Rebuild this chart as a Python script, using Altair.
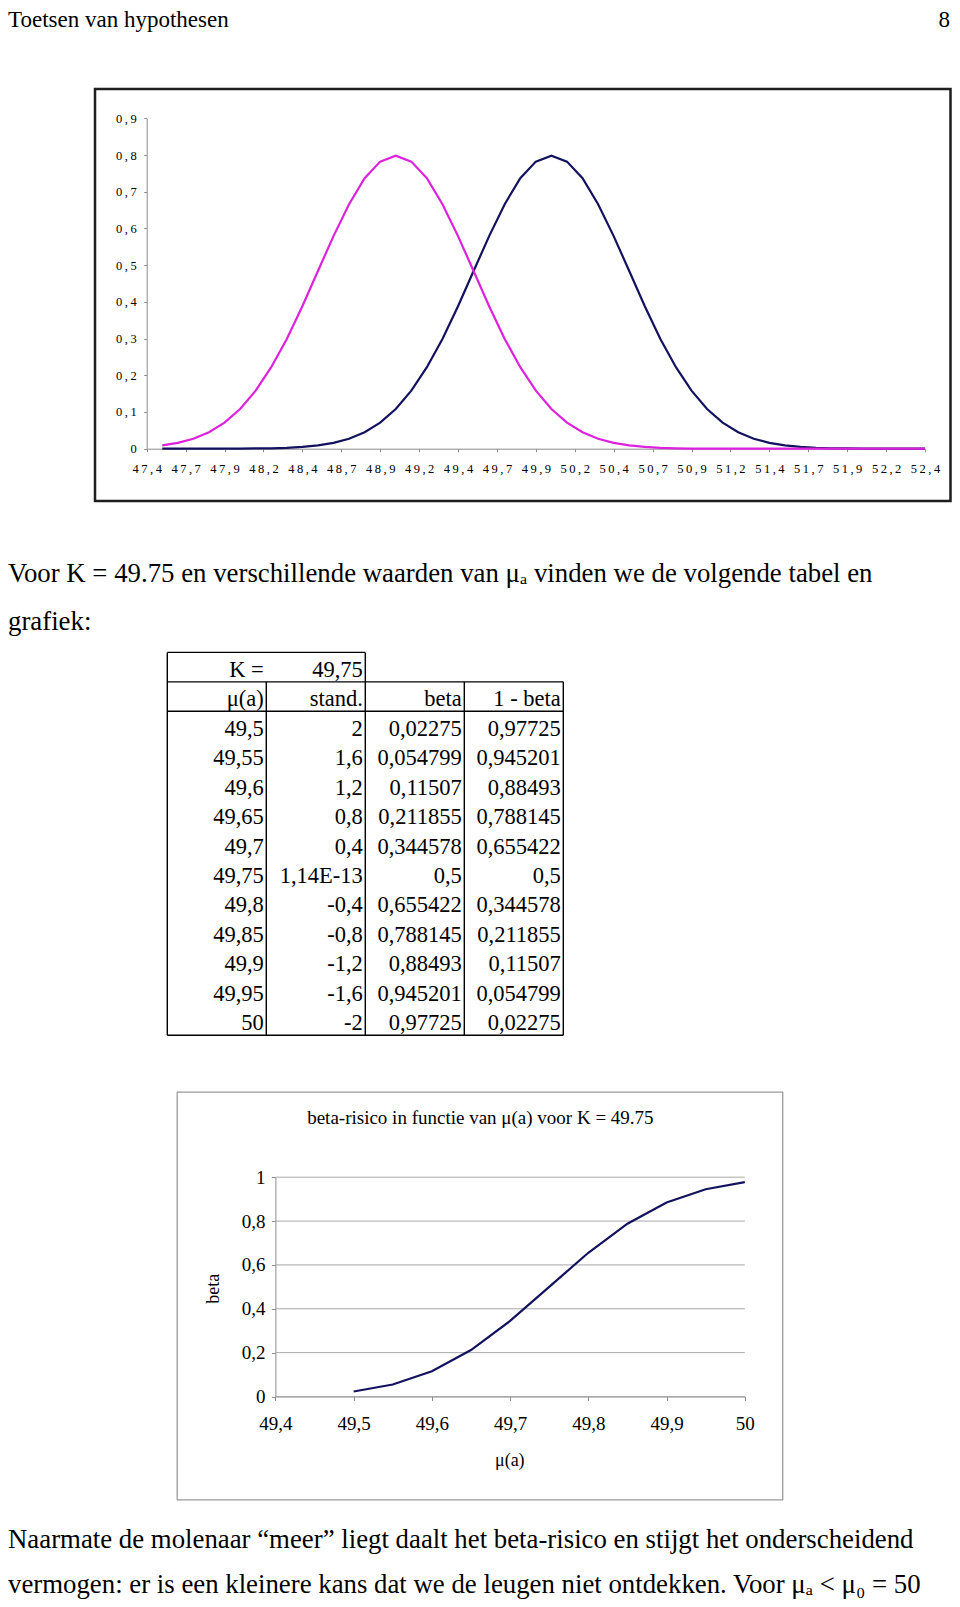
import altair as alt
import pandas as pd

# ---------------- data ----------------
curve_x = [47.5, 47.6, 47.7, 47.8, 47.9, 48.0, 48.1, 48.2, 48.3, 48.4,
           48.5, 48.6, 48.7, 48.8, 48.9, 49.0, 49.1, 49.2, 49.3, 49.4,
           49.5, 49.6, 49.7, 49.8, 49.9, 50.0, 50.1, 50.2, 50.3, 50.4,
           50.5, 50.6, 50.7, 50.8, 50.9, 51.0, 51.1, 51.2, 51.3, 51.4,
           51.5, 51.6, 51.7, 51.8, 51.9, 52.0, 52.1, 52.2, 52.3, 52.4]
magenta_density = [0.009, 0.016, 0.027, 0.045, 0.071, 0.108, 0.158, 0.222, 0.299, 0.388,
                   0.484, 0.579, 0.666, 0.737, 0.782, 0.798, 0.782, 0.737, 0.666, 0.579,
                   0.484, 0.388, 0.299, 0.222, 0.158, 0.108, 0.071, 0.045, 0.027, 0.016,
                   0.009, 0.005, 0.002, 0.001, 0.0, 0.0, 0.0, 0.0, 0.0, 0.0,
                   0.0, 0.0, 0.0, 0.0, 0.0, 0.0, 0.0, 0.0, 0.0, 0.0]
navy_density = [0.0, 0.0, 0.0, 0.0, 0.0, 0.0, 0.001, 0.001, 0.002, 0.005,
                0.009, 0.016, 0.027, 0.045, 0.071, 0.108, 0.158, 0.222, 0.299, 0.388,
                0.484, 0.579, 0.666, 0.737, 0.782, 0.798, 0.782, 0.737, 0.666, 0.579,
                0.484, 0.388, 0.299, 0.222, 0.158, 0.108, 0.071, 0.045, 0.027, 0.016,
                0.009, 0.005, 0.002, 0.001, 0.001, 0.0, 0.0, 0.0, 0.0, 0.0]
top_x_ticks = [47.4, 47.65, 47.9, 48.15, 48.4, 48.65, 48.9, 49.15, 49.4, 49.65, 49.9,
               50.15, 50.4, 50.65, 50.9, 51.15, 51.4, 51.65, 51.9, 52.15, 52.4]
top_y_ticks = [0, 0.1, 0.2, 0.3, 0.4, 0.5, 0.6, 0.7, 0.8, 0.9]

K_value = 49.75
mu_a = [49.5, 49.55, 49.6, 49.65, 49.7, 49.75, 49.8, 49.85, 49.9, 49.95, 50]
stand = [2, 1.6, 1.2, 0.8, 0.4, 1.14e-13, -0.4, -0.8, -1.2, -1.6, -2]
beta = [0.02275, 0.054799, 0.11507, 0.211855, 0.344578, 0.5,
        0.655422, 0.788145, 0.88493, 0.945201, 0.97725]
one_minus_beta = [0.97725, 0.945201, 0.88493, 0.788145, 0.655422, 0.5,
                  0.344578, 0.211855, 0.11507, 0.054799, 0.02275]
header_labels = ["μ(a)", "stand.", "beta", "1 - beta"]

beta_x_ticks = [49.4, 49.5, 49.6, 49.7, 49.8, 49.9, 50]
beta_y_ticks = [0, 0.2, 0.4, 0.6, 0.8, 1]

page_header = "Toetsen van hypothesen"
page_number = "8"
para1 = ["Voor K = 49.75 en verschillende waarden van μₐ vinden we de volgende tabel en",
         "grafiek:"]
para2 = ["Naarmate de molenaar “meer” liegt daalt het beta-risico en stijgt het onderscheidend",
         "vermogen: er is een kleinere kans dat we de leugen niet ontdekken. Voor μₐ < μ₀ = 50"]
beta_title = "beta-risico in functie van μ(a) voor K = 49.75"

# ---------------- layout / style ----------------
W, H = 944, 1591
FONT = "Liberation Serif"
NAVY = "#12125e"
MAGENTA = "#dd22dd"
AXIS_GRAY = "#8c8c8c"
one = alt.Data(values=[{"k": 0}])


def text_layer(txt, x, y, size, align="left", baseline="alphabetic"):
    return alt.Chart(one).mark_text(text=txt, font=FONT, fontSize=size, align=align,
                                    baseline=baseline, color="black").encode(
        x=alt.value(x), y=alt.value(y))


def frame(x0, y0, x1, y1, color, width):
    return alt.Chart(one).mark_rect(fill="transparent", stroke=color, strokeWidth=width).encode(
        x=alt.value(x0), x2=alt.value(x1), y=alt.value(y0), y2=alt.value(y1))


def spaced(expr):
    return "join(split(" + expr + ", ''), '\u2009')"


layers = []

# page header
layers.append(text_layer(page_header, 0, 18.5, 23))
layers.append(text_layer(page_number, 942, 18.5, 23, align="right"))

# ---------------- top chart: two normal curves ----------------
layers.append(frame(87, 81, 942.5, 493, "#1e1e1e", 2.5))
top_df = pd.DataFrame({"x": curve_x, "magenta": magenta_density, "navy": navy_density})
top_xs = alt.Scale(domain=[top_x_ticks[0], top_x_ticks[-1]], range=[138.7, 917.0], nice=False, zero=False)
top_ys = alt.Scale(domain=[top_y_ticks[0], top_y_ticks[-1]], range=[440.7, 110.3], nice=False, zero=False)
top_x_axis = alt.Axis(orient="bottom", offset=440.7 - H, values=top_x_ticks,
                      labelExpr=spaced("replace(format(datum.value + 0.0001, '.1f'), '.', ',')"),
                      title="", grid=False, domainColor=AXIS_GRAY, tickColor=AXIS_GRAY, tickSize=3,
                      labelPadding=11, labelFont=FONT, labelFontSize=12.5, labelColor="black",
                      labelFlush=False, labelOverlap=False, labelAngle=0)
top_y_axis = alt.Axis(orient="left", offset=-138.7, values=top_y_ticks,
                      labelExpr="datum.value == 0 ? '0' : " + spaced("replace(format(datum.value, '.1f'), '.', ',')"),
                      title="", grid=False, domainColor=AXIS_GRAY, tickColor=AXIS_GRAY, tickSize=3,
                      labelPadding=7.5, labelFont=FONT, labelFontSize=12.5, labelColor="black",
                      labelFlush=False, labelOverlap=False)
layers.append(alt.Chart(top_df).mark_line(color=NAVY, strokeWidth=2.2).encode(
    x=alt.X("x:Q", scale=top_xs, axis=top_x_axis),
    y=alt.Y("navy:Q", scale=top_ys, axis=top_y_axis)))
layers.append(alt.Chart(top_df).mark_line(color=MAGENTA, strokeWidth=2.2).encode(
    x=alt.X("x:Q", scale=top_xs, axis=None),
    y=alt.Y("magenta:Q", scale=top_ys, axis=None)))

# ---------------- paragraph 1 ----------------
layers.append(text_layer(para1[0], 0, 574.3, 26.8))
layers.append(text_layer(para1[1], 0, 622, 26.8))

# ---------------- table ----------------


def fmt(v):
    return str(v).replace(".", ",").replace("e", "E")


cells = [(0, 0, "K ="), (0, 1, fmt(K_value))]
for c, h in enumerate(header_labels):
    cells.append((1, c, h))
columns = [mu_a, stand, beta, one_minus_beta]
for i in range(len(mu_a)):
    for c, col in enumerate(columns):
        cells.append((2 + i, c, fmt(col[i])))
cell_df = pd.DataFrame(cells, columns=["row", "col", "label"])
cell_df["xr"] = cell_df["col"] + 1
cell_df["yb"] = cell_df["row"] + 1
n_rows = 2 + len(mu_a)
n_cols = len(columns)
tx = alt.Scale(domain=[0, n_cols], range=[159.3, 555.3], nice=False, zero=False)
ty = alt.Scale(domain=[0, n_rows], range=[644.4, 1027.3], nice=False, zero=False)
segs = [(0, 0, 2, 0), (0, 1, n_cols, 1), (0, 2, n_cols, 2), (0, n_rows, n_cols, n_rows)]
for c in range(n_cols + 1):
    segs.append((c, 0 if c in (0, 2) else 1, c, n_rows))
seg_df = pd.DataFrame(segs, columns=["x0", "y0", "x1", "y1"])
layers.append(alt.Chart(seg_df).mark_rule(color="black", strokeWidth=1.4).encode(
    x=alt.X("x0:Q", scale=tx, axis=None), x2="x1:Q",
    y=alt.Y("y0:Q", scale=ty, axis=None), y2="y1:Q"))
layers.append(alt.Chart(cell_df).mark_text(font=FONT, fontSize=22.5, align="right",
                                           baseline="alphabetic", dx=-2.5, dy=-5, color="black").encode(
    x=alt.X("xr:Q", scale=tx, axis=None),
    y=alt.Y("yb:Q", scale=ty, axis=None),
    text="label:N"))

# ---------------- bottom chart: beta curve ----------------
layers.append(frame(169.2, 1084.1, 774.7, 1491.9, "#9a9a9a", 1.3))
layers.append(text_layer(beta_title, 472.4, 1109.5, 19, align="center", baseline="middle"))
bx = alt.Scale(domain=[beta_x_ticks[0], beta_x_ticks[-1]], range=[267.4, 736.8], nice=False, zero=False)
by = alt.Scale(domain=[beta_y_ticks[0], beta_y_ticks[-1]], range=[1388.5, 1169.2], nice=False, zero=False)
grid_df = pd.DataFrame({"y": beta_y_ticks, "x0": beta_x_ticks[0], "x1": beta_x_ticks[-1]})
layers.append(alt.Chart(grid_df).mark_rule(color="#a8a8a8", strokeWidth=1).encode(
    x=alt.X("x0:Q", scale=bx, axis=None), x2="x1:Q",
    y=alt.Y("y:Q", scale=by, axis=None)))
beta_df = pd.DataFrame({"mu": mu_a, "beta": beta})
bx_axis = alt.Axis(orient="bottom", offset=1388.5 - H, values=beta_x_ticks,
                   labelExpr="replace(format(datum.value, '~g'), '.', ',')",
                   title="μ(a)", titleX=501.3, titleY=63.5, titleAlign="center", titleBaseline="middle",
                   titleFont=FONT, titleFontSize=18, titleFontWeight="normal", titleColor="black",
                   grid=False, domainColor=AXIS_GRAY, tickColor=AXIS_GRAY, tickSize=4,
                   labelPadding=13.8, labelFont=FONT, labelFontSize=19, labelColor="black",
                   labelFlush=False, labelOverlap=False, labelAngle=0)
by_axis = alt.Axis(orient="left", offset=-267.4, values=beta_y_ticks,
                   labelExpr="replace(format(datum.value, '~g'), '.', ',')",
                   title="beta", titleX=-61.9, titleY=1280.3, titleAngle=270, titleAlign="center",
                   titleBaseline="middle", titleFont=FONT, titleFontSize=18, titleFontWeight="normal",
                   titleColor="black", grid=False, domainColor=AXIS_GRAY, tickColor=AXIS_GRAY, tickSize=4,
                   labelPadding=6.5, labelFont=FONT, labelFontSize=19, labelColor="black",
                   labelFlush=False, labelOverlap=False)
layers.append(alt.Chart(beta_df).mark_line(color=NAVY, strokeWidth=2.2).encode(
    x=alt.X("mu:Q", scale=bx, axis=bx_axis),
    y=alt.Y("beta:Q", scale=by, axis=by_axis)))

# ---------------- paragraph 2 ----------------
layers.append(text_layer(para2[0], 0, 1539.5, 26.8))
layers.append(text_layer(para2[1], 0, 1584.5, 26.8))

chart = alt.layer(*layers).resolve_scale(x="independent", y="independent").properties(
    width=W, height=H, padding=0, autosize=alt.AutoSizeParams(type="none")
).configure(font=FONT, background="white").configure_view(strokeWidth=0)

chart.save("out.html", embed_options={"renderer": "svg", "actions": False})
